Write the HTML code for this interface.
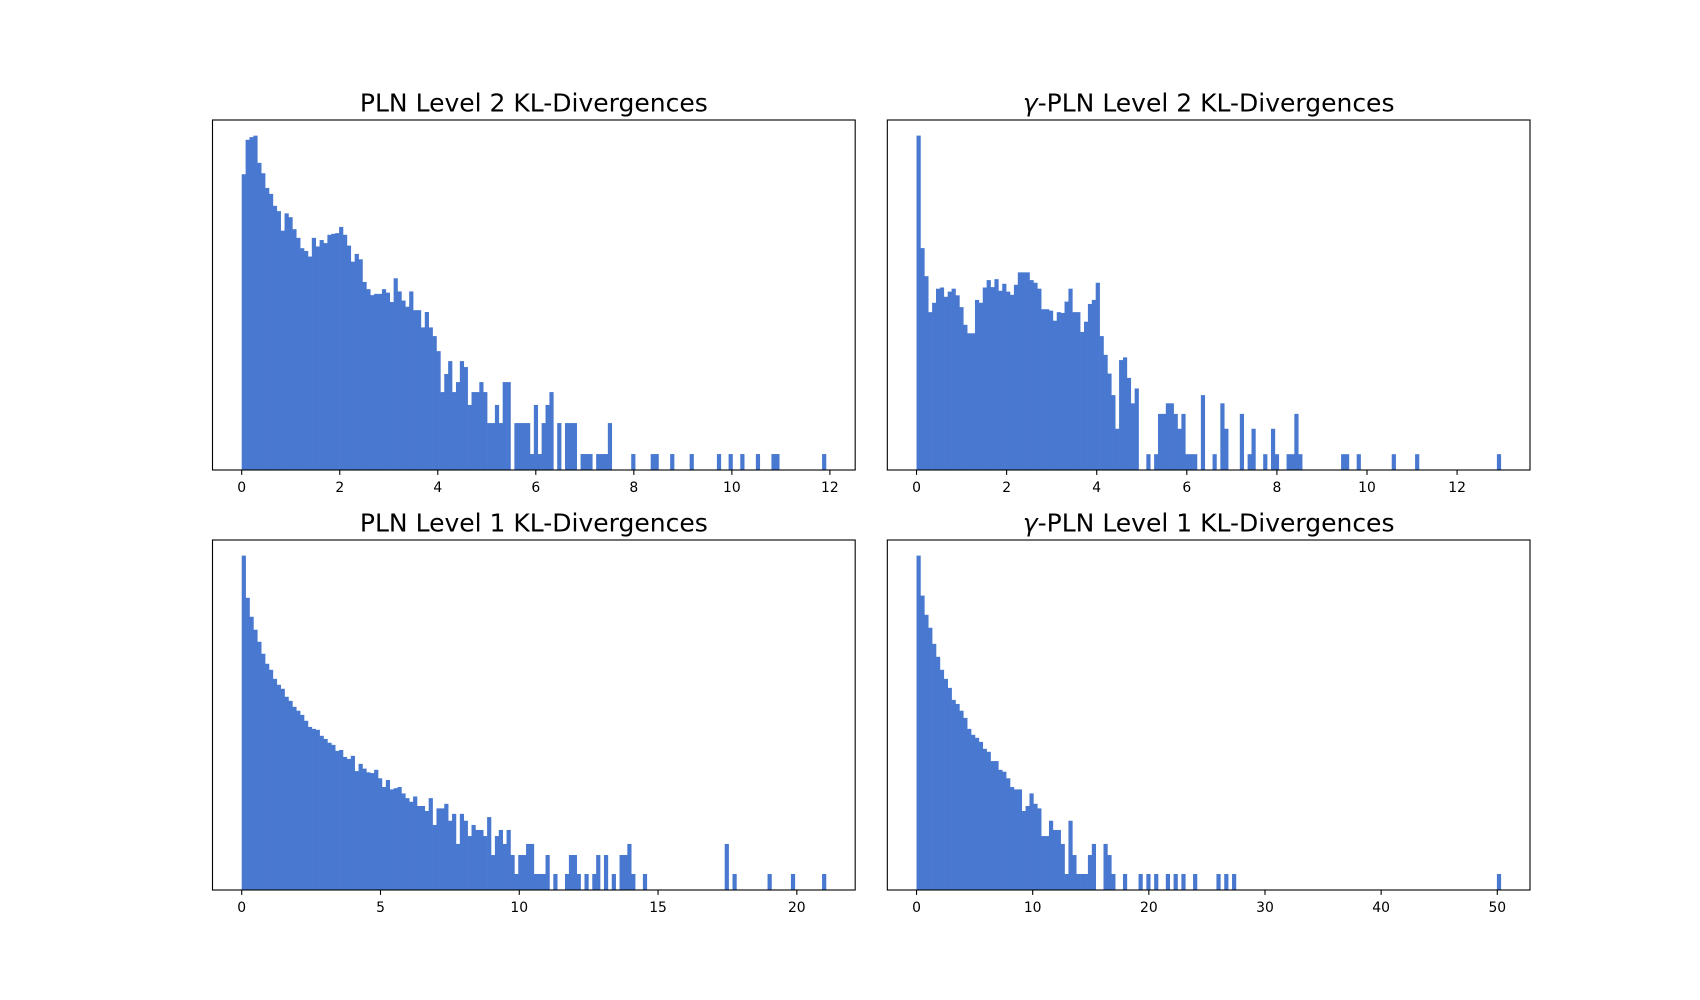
<!DOCTYPE html>
<html><head><meta charset="utf-8">
<style>
html,body{margin:0;padding:0;background:#fff;}
svg{display:block;}
text{font-family:"DejaVu Sans","Liberation Sans",sans-serif;fill:#000;}
</style></head>
<body>
<svg id="fig" width="1700" height="1000" viewBox="0 0 1700 1000" xmlns="http://www.w3.org/2000/svg">
<rect x="0" y="0" width="1700" height="1000" fill="#fff"/>
</svg>
<script>
// ---- data: histogram counts (150 bins each) ----
const tlCounts = [523,1130,1200,1240,675,535,385,337,258,229,148,218,200,153,126,100,94,83,126,
104,120,112,135,138,140,161,135,106,74,88,78,47,40,35,36,36,40,37,30,51,38,31,27,38,25,25,17,24,17,14,
10,4,6,8,4,5,8,7,3,4,4,5,4,2,2,3,2,5,5,
0,2,2,2,2,1,3,1,2,3,4,0,2,0,2,2,2,0,1,1,1,0,1,1,1,2,0,0,0,0,0,1,0,0,0,0,1,1,0,0,0,1,0,0,0,0,1,
0,0,0,0,0,0,1,0,0,1,0,0,1,0,0,0,1,0,0,0,1,1,0,0,0,0,0,0,0,0,0,0,0,1];
const trCounts = [5900,275,128,48,62,91,94,73,84,91,76,55,34,27,27,67,62,94,115,95,118,86,104,84,77,101,142,142,142,115,
107,91,52,52,50,38,48,47,64,91,48,48,28,37,60,67,107,25,15,9,5,2,13,14,8,4,6,0,0,1,
0,1,3,3,4,4,3,2,3,1,1,1,0,5,0,0,1,0,4,2,0,0,0,3,0,1,2,0,0,1,0,2,1,0,0,1,1,3,1,0,
0,0,0,0,0,0,0,0,0,1,1,0,0,1,0,0,0,0,0,0,0,0,1,0,0,0,0,0,1,0,0,0,0,0,0,0,0,0,0,0,
0,0,0,0,0,0,0,0,0,1];
const blCounts = [113000,24200,12100,7530,4850,3130,2170,1740,1250,1007,870,650,560,450,390,335,270,216,201,194,
156,139,121,112,90,93,72,67,75,43,56,47,41,40,45,33,24,31,22,23,24,19,16,14,17,12,12,10,16,6,
11,11,13,7,9,3,9,7,4,6,5,5,4,8,2,4,5,3,5,2,1,2,2,3,3,1,1,1,2,0,
1,0,0,1,2,2,1,0,1,0,1,2,0,2,0,1,0,2,2,3,1,0,0,1,0,0,0,0,0,0,
0,0,0,0,0,0,0,0,0,0,0,0,0,0,3,0,1,0,0,0,0,0,0,0,0,1,0,0,0,0,0,1,0,0,0,0,0,0,0,1];
const brCounts = [113000,26200,13000,8100,4500,2800,1740,1250,900,580,500,390,300,201,162,145,125,97,87,62,
62,45,42,33,24,22,22,10,12,19,13,11,4,4,7,5,5,3,1,7,2,1,1,1,2,3,0,0,3,2,
1,0,0,1,0,0,0,1,0,1,0,1,0,0,1,0,1,0,1,0,0,1,0,0,0,0,0,1,0,1,
0,1,0,0,0,0,0,0,0,0,0,0,0,0,0,0,0,0,0,0,0,0,0,0,0,0,0,0,0,0,
0,0,0,0,0,0,0,0,0,0,0,0,0,0,0,0,0,0,0,0,0,0,0,0,0,0,0,0,0,0,0,0,0,0,0,0,0,0,0,1];
const dataMin = [0, 0, 0, 0];
const dataMax = [11.92, 12.97, 21.05, 50.3];
const yLimLow = [0.7, 0.65, 0.557, 0.557];
const yLimHigh = [1760, 9030, 200000, 200000];
const tlTicks = [0,2,4,6,8,10,12];
const trTicks = [0,2,4,6,8,10,12];
const blTicks = [0,5,10,15,20];
const brTicks = [0,10,20,30,40,50];
const titles = ["PLN Level 2 KL-Divergences","γ-PLN Level 2 KL-Divergences","PLN Level 1 KL-Divergences","γ-PLN Level 1 KL-Divergences"];

const NS = "http://www.w3.org/2000/svg";
const fig = document.getElementById('fig');
const AX_W = 1317.5 / 2.05, GAP_W = AX_W * 0.05;
const AX_H = 770 / 2.2, GAP_H = AX_H * 0.2;
const boxes = [
  [212.5, 120], [212.5 + AX_W + GAP_W, 120],
  [212.5, 120 + AX_H + GAP_H], [212.5 + AX_W + GAP_W, 120 + AX_H + GAP_H]
];
const allCounts = [tlCounts, trCounts, blCounts, brCounts];
const allTicks = [tlTicks, trTicks, blTicks, brTicks];
const names = ['pln-level2','gamma-pln-level2','pln-level1','gamma-pln-level1'];

function mk(tag, attrs, parent) {
  const e = document.createElementNS(NS, tag);
  for (const k in attrs) e.setAttribute(k, attrs[k]);
  parent.appendChild(e);
  return e;
}

for (let p = 0; p < 4; p++) {
  const [x0, y0] = boxes[p];
  const counts = allCounts[p];
  const lo = dataMin[p], hi = dataMax[p];
  const span = hi - lo;
  const xl = lo - 0.05 * span, xr = hi + 0.05 * span;
  const xs = v => x0 + (v - xl) / (xr - xl) * AX_W;
  const yb = Math.log(yLimLow[p]), yt = Math.log(yLimHigh[p]);
  const ys = c => y0 + AX_H - (Math.log(c) - yb) / (yt - yb) * AX_H;

  const g = mk('g', {}, fig);
  
  

  const bars = mk('g', {fill: '#4878CF'}, g);
  
  
  const n = counts.length, bw = span / n;
  for (let i = 0; i < n; i++) {
    if (counts[i] <= 0) continue;
    const xa = xs(lo + i * bw), xb = xs(lo + (i + 1) * bw);
    const yTop = Math.max(ys(counts[i]), y0);
    const r = mk('rect', {x: xa, y: yTop, width: xb - xa + 0.3, height: y0 + AX_H - yTop}, bars);
    
    
  }

  const frame = mk('rect', {x: x0, y: y0, width: AX_W, height: AX_H, fill: 'none', stroke: '#000', 'stroke-width': 1.1}, g);
  
  

  for (const t of allTicks[p]) {
    const tx = xs(t);
    const tk = mk('line', {x1: tx, x2: tx, y1: y0 + AX_H, y2: y0 + AX_H + 4.9, stroke: '#000', 'stroke-width': 1.1}, g);
    
    
    const lb = mk('text', {x: tx, y: y0 + AX_H + 22, 'text-anchor': 'middle', 'font-size': '13.9px'}, g);
    lb.textContent = String(t);
    
    
  }

  const title = mk('text', {x: x0 + AX_W / 2, y: y0 - 8.5, 'text-anchor': 'middle', 'font-size': '25px'}, g);
  const tt = titles[p];
  if (tt.startsWith('γ')) {
    const s1 = mk('tspan', {'font-style': 'italic'}, title); s1.textContent = 'γ';
    const s2 = mk('tspan', {}, title); s2.textContent = tt.slice(1);
  } else {
    title.textContent = tt;
  }
  
  
}
</script>
</body></html>
